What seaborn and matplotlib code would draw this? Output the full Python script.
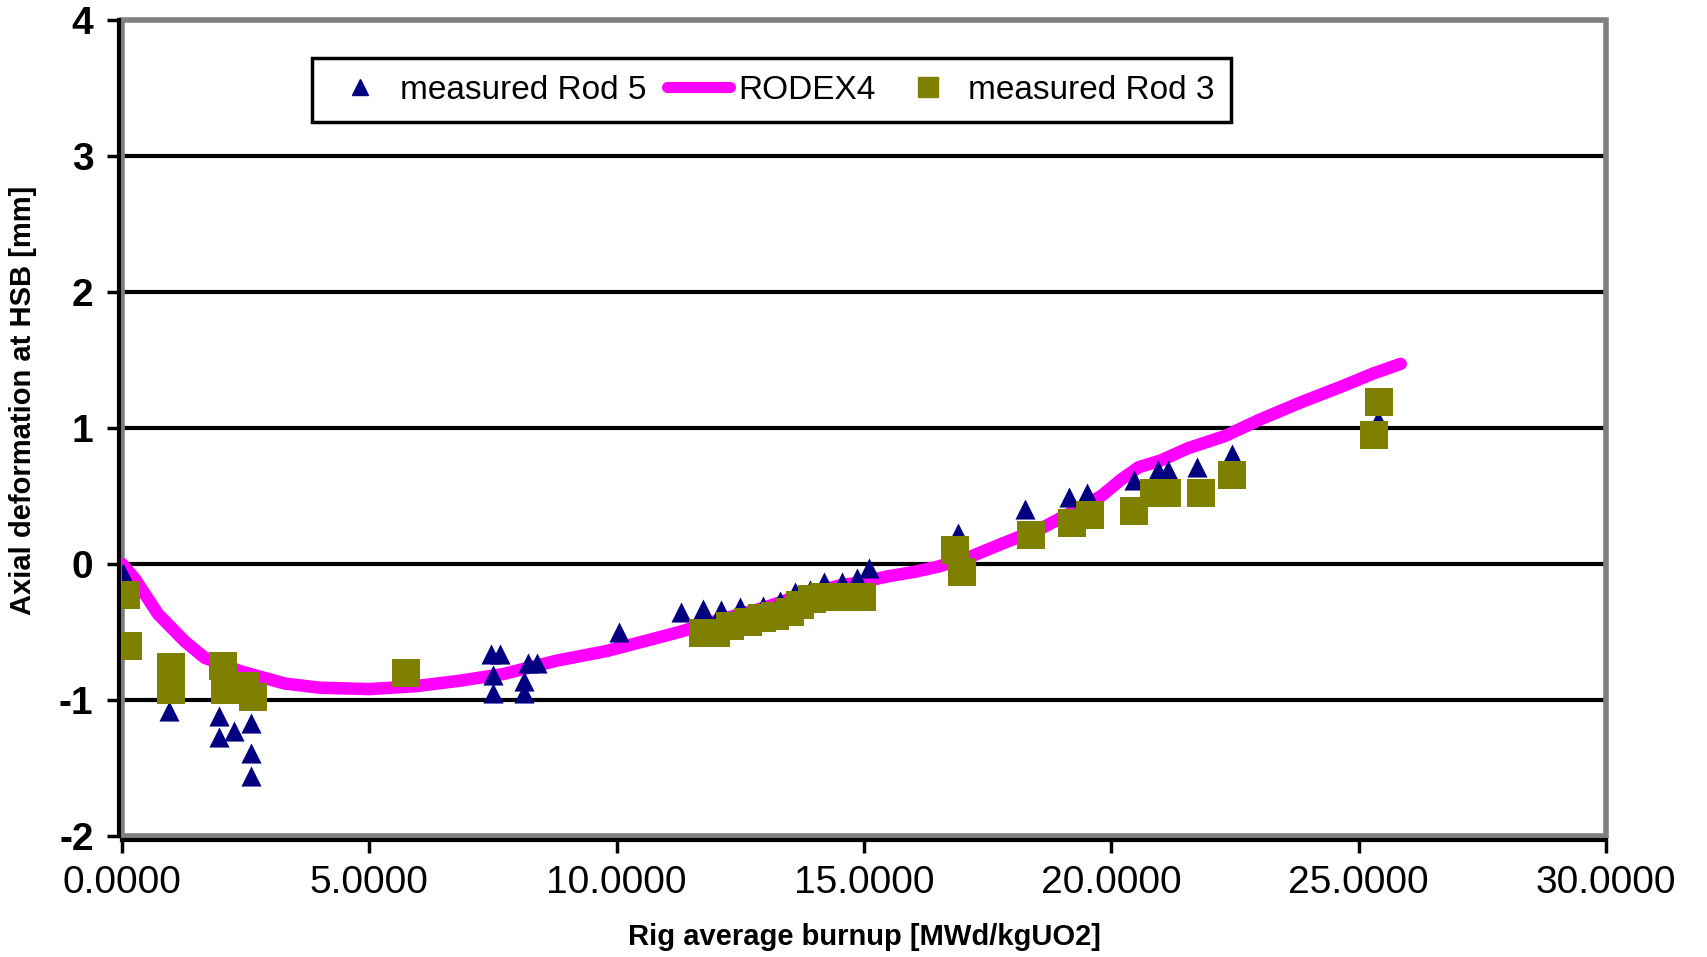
import matplotlib
matplotlib.use("Agg")
import matplotlib.pyplot as plt
from matplotlib.patches import Rectangle
from matplotlib.lines import Line2D
import seaborn as sns
import pandas as pd

# Measured axial deformation, rod 5
rod5_burnup = [0.02, 0.95, 1.95, 1.97, 2.26, 2.60, 2.60, 2.60,
               7.45, 7.65, 7.50, 7.50, 8.20, 8.38, 8.12, 8.12,
               10.05,
               11.30, 11.75, 12.10, 12.50, 12.95, 13.30, 13.60, 13.90,
               14.20, 14.55, 14.85, 15.10,
               16.90, 18.26, 19.15, 19.50, 20.46, 20.95, 21.15, 21.74,
               22.44, 25.40]
rod5_deform = [-0.07, -1.08, -1.12, -1.27, -1.23, -1.17, -1.39, -1.56,
               -0.66, -0.66, -0.82, -0.95, -0.73, -0.73, -0.86, -0.95,
               -0.50,
               -0.35, -0.33, -0.34, -0.32, -0.31, -0.27, -0.21, -0.19,
               -0.13, -0.13, -0.10, -0.03,
               0.23, 0.40, 0.49, 0.52, 0.62, 0.69, 0.69, 0.71,
               0.81, 1.06]

# Measured axial deformation, rod 3
rod3_burnup = [0.08, 0.12, 0.99, 0.99, 2.04, 2.08, 2.48, 2.65,
               5.74,
               11.74, 12.00, 12.30, 12.65, 12.93, 13.20, 13.50, 13.70,
               13.95, 14.20, 14.60, 14.95,
               16.83, 16.99, 18.38, 19.21, 19.56, 20.46, 20.87, 21.13,
               21.82, 22.44, 25.31, 25.41]
rod3_deform = [-0.23, -0.60, -0.76, -0.93, -0.75, -0.93, -0.90, -0.98,
               -0.80,
               -0.51, -0.51, -0.46, -0.43, -0.40, -0.38, -0.35, -0.30,
               -0.26, -0.24, -0.24, -0.24,
               0.10, -0.06, 0.21, 0.30, 0.36, 0.39, 0.52, 0.52,
               0.52, 0.65, 0.95, 1.19]

# RODEX4 calculation
rodex_burnup = [0.0, 0.26, 0.73, 1.27, 1.67, 2.4, 3.3, 4.0, 5.0, 5.9,
                6.8, 7.7, 8.8, 9.8, 10.75, 11.27, 12.1, 13.0, 13.8, 14.5,
                15.0, 15.5, 16.0, 16.5, 17.2, 17.8, 18.63, 19.2, 19.8,
                20.2, 20.55, 21.0, 21.55, 22.3, 23.0, 23.85, 24.7, 25.3,
                25.85]
rodex_deform = [0.0, -0.11, -0.37, -0.57, -0.69, -0.79, -0.88, -0.91, -0.92,
                -0.90, -0.86, -0.81, -0.71, -0.64, -0.55, -0.50, -0.41,
                -0.32, -0.22, -0.16, -0.13, -0.09, -0.06, -0.02, 0.06,
                0.15, 0.27, 0.38, 0.50, 0.62, 0.71, 0.76, 0.85, 0.94,
                1.06, 1.19, 1.31, 1.40, 1.47]

x_ticks = [0, 5, 10, 15, 20, 25, 30]
y_ticks = [-2, -1, 0, 1, 2, 3, 4]

sns.set_theme(style="white")
plt.rcParams["font.family"] = ["Liberation Sans", "DejaVu Sans"]

NAVY = "#000080"
OLIVE = "#808000"
MAGENTA = "#FF00FF"
GREY = "#808080"

fig = plt.figure(figsize=(17.07, 9.57), dpi=100)
ax = fig.add_axes([0.0715, 0.1264, 0.8693, 0.8531])

df5 = pd.DataFrame({"burnup": rod5_burnup, "deform": rod5_deform})
df3 = pd.DataFrame({"burnup": rod3_burnup, "deform": rod3_deform})
dfr = pd.DataFrame({"burnup": rodex_burnup, "deform": rodex_deform})

sns.lineplot(data=dfr, x="burnup", y="deform", ax=ax, color=MAGENTA,
             lw=9, sort=False, estimator=None, zorder=3)
sns.scatterplot(data=df5, x="burnup", y="deform", ax=ax, marker="^",
                color=NAVY, s=210, linewidth=0, zorder=4)
sns.scatterplot(data=df3, x="burnup", y="deform", ax=ax, marker="s",
                color=OLIVE, s=380, linewidth=0, zorder=5)

# plot-area frame and axis lines (spine repositioning resets the ticks,
# so it comes before the tick styling)
for side in ("top", "right"):
    ax.spines[side].set_visible(False)
for side in ("left", "bottom"):
    ax.spines[side].set_color("black")
    ax.spines[side].set_linewidth(3)
    ax.spines[side].set_position(("outward", 2.5))
frame = Rectangle((0, 0), 1, 1, transform=ax.transAxes, fill=False,
                  edgecolor=GREY, lw=4, clip_on=False, zorder=2.5)
ax.add_patch(frame)

ax.set_xlim(0, 30)
ax.set_ylim(-2, 4)
ax.tick_params(axis="both", direction="out", length=9, width=2.5,
               color="black", pad=9, left=True, bottom=True,
               labelsize=28, labelcolor="black")
ax.set_xticks(x_ticks)
ax.set_xticklabels([f"{v:.4f}" for v in x_ticks], fontsize=28)
ax.set_yticks(y_ticks)
ax.set_yticklabels([str(v) for v in y_ticks], fontsize=28,
                   fontweight="bold")

ax.yaxis.grid(True, color="black", lw=3)
ax.xaxis.grid(False)
ax.set_axisbelow(True)

ax.set_xlabel("Rig average burnup [MWd/kgUO2]", fontsize=21,
              fontweight="bold", color="black")
ax.set_ylabel("Axial deformation at HSB [mm]", fontsize=21,
              fontweight="bold", color="black")
ax.xaxis.set_label_coords(0.5, -0.106)
ax.yaxis.set_label_coords(-0.057, 0.534)

handles = [
    Line2D([], [], marker="^", color=NAVY, linestyle="none", markersize=11),
    Line2D([], [], color=MAGENTA, lw=8),
    Line2D([], [], marker="s", color=OLIVE, linestyle="none", markersize=14),
]
labels = ["measured Rod 5", "RODEX4", "measured Rod 3"]
leg = ax.legend(handles, labels, ncol=3, loc="upper left",
                bbox_to_anchor=(0.128, 0.953), borderaxespad=0,
                fontsize=24, frameon=True, fancybox=False,
                handlelength=1.9, handletextpad=0.25, columnspacing=0.6,
                borderpad=0.5)
for t in leg.get_texts():
    t.set_color("black")
leg.get_frame().set_edgecolor("black")
leg.get_frame().set_linewidth(2.5)
leg.get_frame().set_facecolor("white")
leg.get_frame().set_alpha(1)

fig.savefig("out.png", dpi=100, facecolor="white")
